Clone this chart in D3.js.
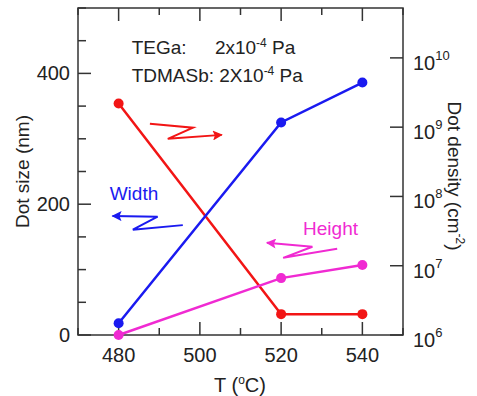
<!DOCTYPE html>
<html>
<head>
<meta charset="utf-8">
<script src="https://cdn.jsdelivr.net/npm/d3@7"></script>
<style>
  body { margin: 0; background: #fff; }
  svg text { font-family: "Liberation Sans", Arial, sans-serif; fill: #222; }
</style>
</head>
<body>
<div id="chart"></div>
<script>
// donnees
const temps = [480, 520, 540];
const widthNm = [18, 325, 386];
const heightNm = [0, 87, 107];
const densityCm2 = [2.2e9, 2e6, 2e6];

const xTicks = [480, 500, 520, 540];
const yTicks = [0, 200, 400];
const densTicks = [1e6, 1e7, 1e8, 1e9, 1e10];

const W = 477, H = 396;
const m = { left: 78, right: 74, top: 8, bottom: 61 };

const svg = d3.select("#chart").append("svg").attr("width", W).attr("height", H);

const x = d3.scaleLinear().domain([470, 550]).range([m.left, W - m.right]);
const y = d3.scaleLinear().domain([0, 500]).range([H - m.bottom, m.top]);
const yR = d3.scaleLog().domain([1e6, Math.pow(10, 10.72)]).range([H - m.bottom, m.top]);

const axisCol = "#333";

// ticks (vers l'interieur)
d3.range(470, 551, 10).forEach(function (t) {
  const len = t % 20 === 0 ? 13 : 7;
  svg.append("line").attr("x1", x(t)).attr("x2", x(t))
    .attr("y1", y(0)).attr("y2", y(0) - len).attr("stroke", axisCol).attr("stroke-width", 1.5);
  svg.append("line").attr("x1", x(t)).attr("x2", x(t))
    .attr("y1", m.top).attr("y2", m.top + len).attr("stroke", axisCol).attr("stroke-width", 1.5);
});
d3.range(0, 501, 50).forEach(function (v) {
  const len = v % 200 === 0 ? 13 : 8;
  svg.append("line").attr("x1", m.left).attr("x2", m.left + len)
    .attr("y1", y(v)).attr("y2", y(v)).attr("stroke", axisCol).attr("stroke-width", 1.5);
});
densTicks.forEach(function (v) {
  svg.append("line").attr("x1", W - m.right).attr("x2", W - m.right - 13)
    .attr("y1", yR(v)).attr("y2", yR(v)).attr("stroke", axisCol).attr("stroke-width", 1.5);
});

// cadre
svg.append("rect").attr("x", m.left).attr("y", m.top)
  .attr("width", W - m.left - m.right).attr("height", H - m.top - m.bottom)
  .attr("fill", "none").attr("stroke", axisCol).attr("stroke-width", 1.5);

// labels des axes
svg.selectAll(".xl").data(xTicks).enter().append("text")
  .attr("x", function (d) { return x(d); }).attr("y", 362)
  .attr("text-anchor", "middle").style("font-size", "20px").text(function (d) { return d; });
svg.selectAll(".yl").data(yTicks).enter().append("text")
  .attr("x", 70).attr("y", function (d) { return y(d); }).attr("dy", "0.35em")
  .attr("text-anchor", "end").style("font-size", "20px").text(function (d) { return d; });
const rl = svg.selectAll(".rl").data(densTicks).enter().append("text")
  .attr("x", 413).attr("y", function (d) { return yR(d) + 12; })
  .style("font-size", "20px");
rl.append("tspan").text("10");
rl.append("tspan").attr("dy", "-10").style("font-size", "13px")
  .text(function (d) { return Math.round(Math.log10(d)); });

svg.append("text").attr("x", 240).attr("y", 392).attr("text-anchor", "middle")
  .style("font-size", "20px")
  .html('T (<tspan dy="-8" font-size="12px">o</tspan><tspan dy="8">C)</tspan>');
svg.append("text").attr("transform", "translate(29," + (m.top + H - m.bottom) / 2 + ") rotate(-90)")
  .attr("text-anchor", "middle").style("font-size", "19px").text("Dot size (nm)");
svg.append("text").attr("transform", "translate(448,176) rotate(90)")
  .attr("text-anchor", "middle").style("font-size", "19px")
  .html('Dot density (cm<tspan dy="-8" font-size="12px">-2</tspan><tspan dy="8">)</tspan>');

// series
const red = "#f21515", blue = "#1a1af0", pink = "#f02ad2";
function drawSeries(vals, sc, col) {
  const pts = temps.map(function (t, i) { return [x(t), sc(vals[i])]; });
  svg.append("path").attr("d", d3.line()(pts)).attr("fill", "none")
    .attr("stroke", col).attr("stroke-width", 2.5);
  svg.selectAll(null).data(pts).enter().append("circle")
    .attr("cx", function (d) { return d[0]; }).attr("cy", function (d) { return d[1]; })
    .attr("r", 5).attr("fill", col);
}
drawSeries(densityCm2, yR, red);
drawSeries(widthNm, y, blue);
drawSeries(heightNm, y, pink);

// annotations
const notes = svg.append("g").style("font-family", "Lato, 'Open Sans', sans-serif").style("font-size", "19px");
notes.append("text").attr("x", x(483.2)).attr("y", y(429)).text("TEGa:");
notes.append("text").attr("x", x(503.7)).attr("y", y(429))
  .html('2x10<tspan dy="-7" font-size="12px">-4</tspan><tspan dy="7"> Pa</tspan>');
notes.append("text").attr("x", x(483.2)).attr("y", y(387))
  .html('TDMASb: 2X10<tspan dy="-7" font-size="12px">-4</tspan><tspan dy="7"> Pa</tspan>');

svg.append("text").attr("x", x(477.8)).attr("y", y(207)).style("font-size", "19px")
  .style("fill", blue).text("Width");
svg.append("text").attr("x", x(525.4)).attr("y", y(153)).style("font-size", "19px")
  .style("fill", pink).text("Height");

// fleches en zigzag
const zigRed = [[487.7, 323], [498.3, 317], [492.1, 300], [505.4, 306]];
const zigBlue = [[495.8, 168], [483.5, 161], [489.6, 181], [478.5, 182]];
const zigPink = [[533.8, 132], [520.5, 118], [527.7, 135], [516.5, 141]];
const defs = svg.append("defs");
function zigzag(pts, col, id) {
  defs.append("marker").attr("id", id).attr("viewBox", "0 0 10 10")
    .attr("refX", 9).attr("refY", 5).attr("markerWidth", 8).attr("markerHeight", 5)
    .attr("markerUnits", "strokeWidth").attr("orient", "auto")
    .append("path").attr("d", "M0,0 L10,5 L0,10 L2,5 z").attr("fill", col);
  svg.append("path").attr("d", d3.line()(pts.map(function (p) { return [x(p[0]), y(p[1])]; })))
    .attr("fill", "none").attr("stroke", col).attr("stroke-width", 2)
    .attr("marker-end", "url(#" + id + ")");
}
zigzag(zigRed, red, "ar");
zigzag(zigBlue, blue, "ab");
zigzag(zigPink, pink, "ap");
</script>
</body>
</html>
